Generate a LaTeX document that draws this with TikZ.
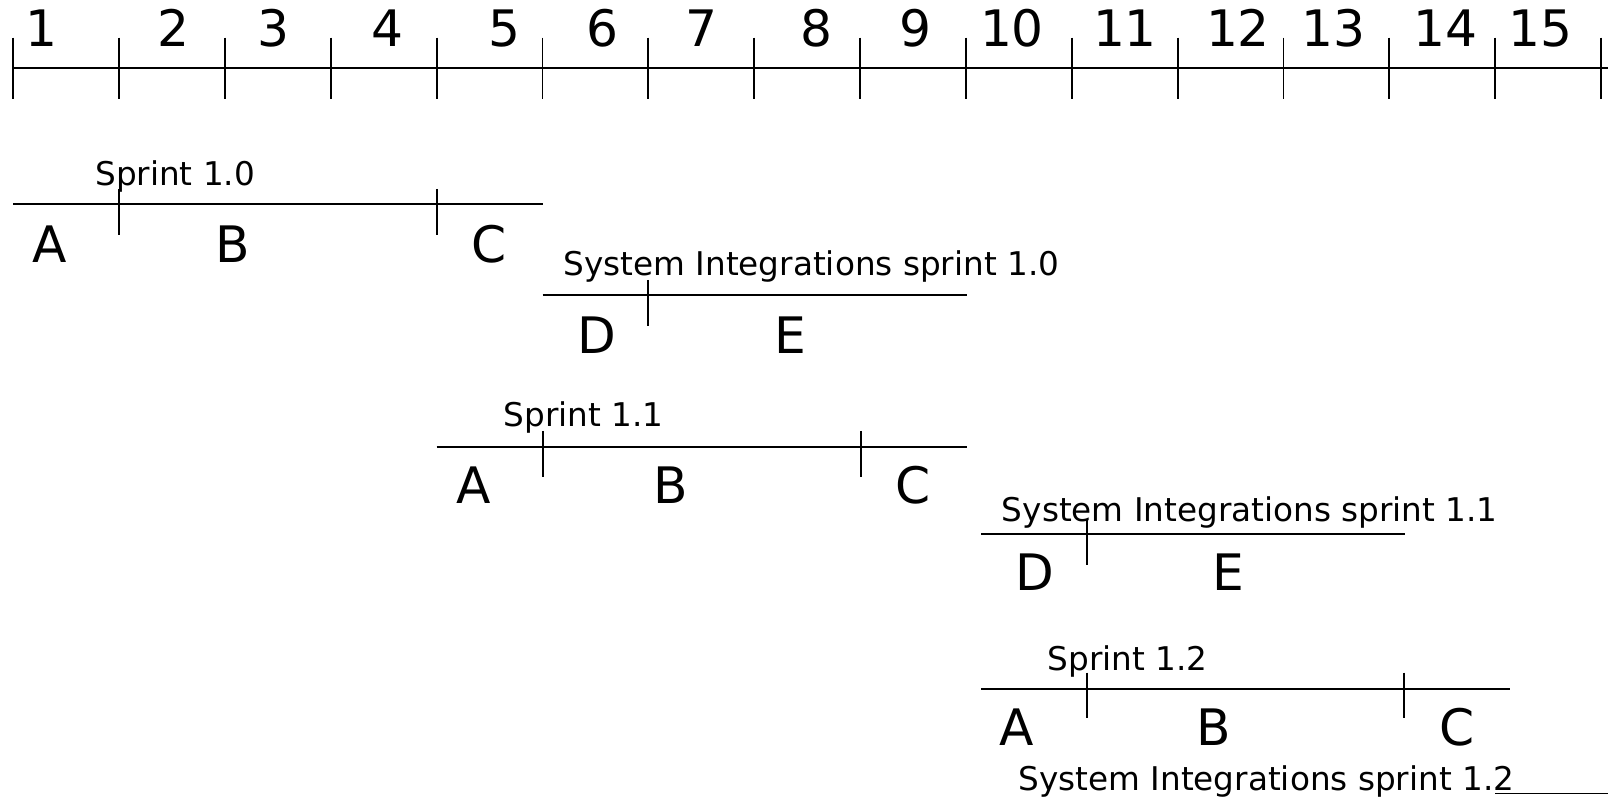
\documentclass[tikz,border=0pt]{standalone}
\usepackage{fontspec}
\setmainfont{DejaVu Sans}
\tikzset{
  big/.style={font=\fontsize{37.7}{40}\selectfont, inner sep=0pt, anchor=base},
  small/.style={font=\fontsize{24.5}{28}\selectfont, inner sep=0pt, anchor=base west},
  ln/.style={line width=1.4pt, black}
}
\begin{document}
\begin{tikzpicture}[x=0.75pt, y=-0.75pt]
\useasboundingbox (0,0) rectangle (1618,798);
% ruler
\draw[ln] (13.3,68.3) -- (1608,68.3);
\foreach \i in {0,...,15} \draw[ln] ({13.3+105.85*\i},37.7) -- ({13.3+105.85*\i},99);
\foreach \n/\x in {1/41,2/173,3/273,4/387,5/504.5,6/602.7,7/701.7,8/816.7,9/915,10/1012,11/1125,12/1238,13/1333,14/1445,15/1540}
  \node[big] (num\n) at (\x,46.7) {\n};
% Sprint 1.0
\node[small] (s10) at (95,185.7) {Sprint 1.0};
\draw[ln] (13.3,204.3) -- (543,204.3);
\draw[ln] (119.3,189) -- (119.3,235);
\draw[ln] (437.3,189) -- (437.3,235);
\node[big] (s10a) at (49.5,262.7) {A};
\node[big] (s10b) at (232.5,262.7) {B};
\node[big] (s10c) at (489,262.7) {C};
% System Integrations sprint 1.0
\node[small] (si10) at (563.3,275.7) {System Integrations sprint 1.0};
\draw[ln] (542.7,295) -- (967.3,295);
\draw[ln] (648.3,280) -- (648.3,325.7);
\node[big] (si10d) at (596.7,354) {D};
\node[big] (si10e) at (790,354) {E};
% Sprint 1.1
\node[small] (s11) at (503.3,426.7) {Sprint 1.1};
\draw[ln] (436.7,446.7) -- (967,446.7);
\draw[ln] (542.7,431) -- (542.7,476.7);
\draw[ln] (860.7,431) -- (860.7,476.7);
\node[big] (s11a) at (473.3,503.4) {A};
\node[big] (s11b) at (671,503.4) {B};
\node[big] (s11c) at (913,503.4) {C};
% System Integrations sprint 1.1
\node[small] (si11) at (1001.7,521.7) {System Integrations sprint 1.1};
\draw[ln] (981,534.3) -- (1405,534.3);
\draw[ln] (1086.7,520) -- (1086.7,565);
\node[big] (si11d) at (1034.7,590) {D};
\node[big] (si11e) at (1228,590) {E};
% Sprint 1.2
\node[small] (s12) at (1047.3,670.5) {Sprint 1.2};
\draw[ln] (981,689) -- (1510,689);
\draw[ln] (1086.7,672.7) -- (1086.7,718.3);
\draw[ln] (1404,672.7) -- (1404,718.3);
\node[big] (s12a) at (1016.7,745) {A};
\node[big] (s12b) at (1214,745) {B};
\node[big] (s12c) at (1457,745) {C};
% System Integrations sprint 1.2
\node[small] (si12) at (1018.3,790) {System Integrations sprint 1.2};
\draw[ln] (1495.3,793.5) -- (1608,793.5);
\end{tikzpicture}
\end{document}
